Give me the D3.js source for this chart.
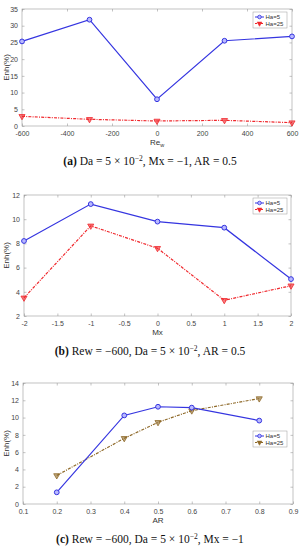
<!DOCTYPE html>
<html>
<head>
<meta charset="utf-8">
<script src="https://cdn.jsdelivr.net/npm/d3@7"></script>
<style>
  body { margin: 0; background: #fff; }
  svg { display: block; }
  .tick text { font-family: "Liberation Sans", Arial, sans-serif; font-size: 7px; fill: #444; }
</style>
</head>
<body>
<script>
// panel (a): Enh vs Re_w
const reW = [-600, -300, 0, 300, 600];
const enhA5 = [25.3, 31.8, 8.0, 25.5, 26.8];
const enhA25 = [2.9, 2.0, 1.5, 1.7, 1.0];
const ticksXA = [-600, -400, -200, 0, 200, 400, 600];
const ticksYA = [0, 5, 10, 15, 20, 25, 30, 35];

// panel (b): Enh vs Mx
const mx = [-2, -1, 0, 1, 2];
const enhB5 = [8.2, 11.25, 9.8, 9.3, 5.05];
const enhB25 = [3.5, 9.45, 7.6, 3.3, 4.5];
const ticksXB = [-2, -1.5, -1, -0.5, 0, 0.5, 1, 1.5, 2];
const ticksYB = [2, 4, 6, 8, 10, 12];

// panel (c): Enh vs AR
const ar = [0.2, 0.4, 0.5, 0.6, 0.8];
const enhC5 = [1.35, 10.25, 11.25, 11.15, 9.65];
const enhC25 = [3.3, 7.6, 9.45, 10.8, 12.2];
const ticksXC = [0.1, 0.2, 0.3, 0.4, 0.5, 0.6, 0.7, 0.8, 0.9];
const ticksYC = [0, 2, 4, 6, 8, 10, 12, 14];

const seriesNames = ["Ha=5", "Ha=25"];

const W = 300, H = 550;
const blue = "#3535e0", red = "#f0282d", brown = "#8f6a2a";
const svg = d3.select("body").append("svg").attr("width", W).attr("height", H);

let drawPanel = (opt) => {
    const g = svg.append("g");
    const x = d3.scaleLinear().domain(opt.xDom).range([opt.left, opt.right]);
    const y = d3.scaleLinear().domain(opt.yDom).range([opt.bottom, opt.top]);

    // box
    g.append("rect")
        .attr("x", opt.left).attr("y", opt.top)
        .attr("width", opt.right - opt.left).attr("height", opt.bottom - opt.top)
        .attr("fill", "none").attr("stroke", "#9a9a9a").attr("stroke-width", 0.6);

    // axes with inward ticks, like matlab
    g.append("g").attr("transform", "translate(0," + opt.bottom + ")")
        .call(d3.axisBottom(x).tickValues(opt.xTicks).tickSize(-2.5).tickPadding(5).tickFormat(d => String(d)));
    g.append("g").attr("transform", "translate(" + opt.left + ",0)")
        .call(d3.axisLeft(y).tickValues(opt.yTicks).tickSize(-2.5).tickPadding(4));
    g.append("g").attr("transform", "translate(0," + opt.top + ")")
        .call(d3.axisTop(x).tickValues(opt.xTicks).tickSize(-2.5).tickFormat(""));
    g.append("g").attr("transform", "translate(" + opt.right + ",0)")
        .call(d3.axisRight(y).tickValues(opt.yTicks).tickSize(-2.5).tickFormat(""));
    g.selectAll(".domain").remove();
    g.selectAll(".tick line").attr("stroke", "#9a9a9a").attr("stroke-width", 0.6);

    // labels
    g.append("text")
        .attr("transform", "translate(9," + ((opt.top + opt.bottom) / 2) + ") rotate(-90)")
        .attr("text-anchor", "middle")
        .style("font-family", "Liberation Sans, Arial, sans-serif").style("font-size", "8px").attr("fill", "#333")
        .text("Enh(%)");
    const xl = g.append("text")
        .attr("x", (opt.left + opt.right) / 2).attr("y", opt.bottom + 19)
        .attr("text-anchor", "middle")
        .style("font-family", "Liberation Sans, Arial, sans-serif").style("font-size", "8px").attr("fill", "#333");
    xl.append("tspan").text(opt.xLabel);
    if (opt.xSub) xl.append("tspan").attr("dy", 2).style("font-size", "5.5px").text(opt.xSub);

    // caption
    const cap = g.append("text")
        .attr("x", 150).attr("y", opt.bottom + 39)
        .attr("text-anchor", "middle")
        .style("font-family", "Liberation Serif, serif").style("font-size", "11.5px").attr("fill", "#111");
    cap.append("tspan").style("font-weight", "bold").text(opt.capTag);
    opt.caption.forEach(part => {
        const t = cap.append("tspan").text(part.t);
        if (part.sup) t.attr("dy", -4.5).style("font-size", "7.5px");
        if (part.down) t.attr("dy", 4.5);
    });

    // lines
    const line = d3.line().x(d => x(d[0])).y(d => y(d[1]));
    const d5 = opt.xs.map((v, i) => [v, opt.s5[i]]);
    const d25 = opt.xs.map((v, i) => [v, opt.s25[i]]);
    g.append("path").datum(d25).attr("d", line)
        .attr("fill", "none").attr("stroke", opt.c25).attr("stroke-width", 1.2)
        .attr("stroke-dasharray", "3,1.2,1,1.2");
    g.append("path").datum(d5).attr("d", line)
        .attr("fill", "none").attr("stroke", blue).attr("stroke-width", 1.2);

    const tri = d3.symbol().type(d3.symbolTriangle).size(16);
    g.selectAll(".m25").data(d25).enter().append("path")
        .attr("transform", d => "translate(" + x(d[0]) + "," + y(d[1]) + ") rotate(180)")
        .attr("d", tri).attr("fill", opt.c25).attr("fill-opacity", 0.6)
        .attr("stroke", opt.c25).attr("stroke-width", 0.8);
    g.selectAll(".m5").data(d5).enter().append("circle")
        .attr("cx", d => x(d[0])).attr("cy", d => y(d[1])).attr("r", 2.4)
        .attr("fill", "#b9b9ff").attr("stroke", blue).attr("stroke-width", 1);

    // legend
    const lg = g.append("g").attr("transform", "translate(" + opt.legX + "," + opt.legY + ")");
    lg.append("rect").attr("width", 34).attr("height", 16)
        .attr("fill", "#fff").attr("stroke", "#9a9a9a").attr("stroke-width", 0.5);
    [[blue, "c"], [opt.c25, "t"]].forEach((s, i) => {
        const yy = 5 + i * 6.5;
        lg.append("line").attr("x1", 2).attr("x2", 11).attr("y1", yy).attr("y2", yy)
            .attr("stroke", s[0]).attr("stroke-width", 1)
            .attr("stroke-dasharray", i ? "2,1" : null);
        if (s[1] == "c") {
            lg.append("circle").attr("cx", 6.5).attr("cy", yy).attr("r", 1.8)
                .attr("fill", "#b9b9ff").attr("stroke", s[0]).attr("stroke-width", 0.8);
        } else {
            lg.append("path").attr("transform", "translate(6.5," + yy + ") rotate(180)")
                .attr("d", d3.symbol().type(d3.symbolTriangle).size(10))
                .attr("fill", s[0]).attr("stroke", s[0]).attr("stroke-width", 0.6);
        }
        lg.append("text").attr("x", 12.5).attr("y", yy + 2)
            .style("font-family", "Liberation Sans, Arial, sans-serif").style("font-size", "6px").attr("fill", "#333")
            .text(seriesNames[i]);
    });
};

drawPanel({
    left: 22, right: 292, top: 9, bottom: 126,
    xDom: [-600, 600], yDom: [0, 35], xTicks: ticksXA, yTicks: ticksYA,
    xs: reW, s5: enhA5, s25: enhA25, c25: red,
    xLabel: "Re", xSub: "w", legX: 253, legY: 12,
    capTag: "(a)",
    caption: [{t: " Da = 5 × 10"}, {t: "−2", sup: true}, {t: ", Mx = −1, AR = 0.5", down: true}]
});

drawPanel({
    left: 24, right: 291, top: 195, bottom: 316,
    xDom: [-2, 2], yDom: [2, 12], xTicks: ticksXB, yTicks: ticksYB,
    xs: mx, s5: enhB5, s25: enhB25, c25: red,
    xLabel: "Mx", legX: 253, legY: 198,
    capTag: "(b)",
    caption: [{t: " Rew = −600, Da = 5 × 10"}, {t: "−2", sup: true}, {t: ", AR = 0.5", down: true}]
});

drawPanel({
    left: 23, right: 293, top: 383, bottom: 504,
    xDom: [0.1, 0.9], yDom: [0, 14], xTicks: ticksXC, yTicks: ticksYC,
    xs: ar, s5: enhC5, s25: enhC25, c25: brown,
    xLabel: "AR", legX: 253, legY: 431,
    capTag: "(c)",
    caption: [{t: " Rew = −600, Da = 5 × 10"}, {t: "−2", sup: true}, {t: ", Mx = −1", down: true}]
});
</script>
</body>
</html>
